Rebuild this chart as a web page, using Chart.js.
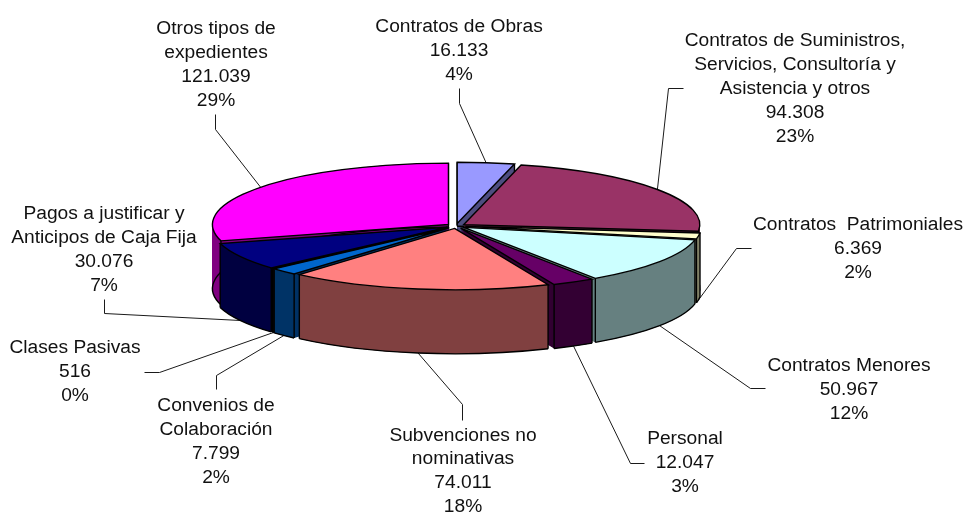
<!DOCTYPE html>
<html>
<head>
<meta charset="utf-8">
<style>
  html, body { margin: 0; padding: 0; background: #fff; }
  canvas { display: block; }
</style>
<script src="https://cdn.jsdelivr.net/npm/chart.js@4"></script>
</head>
<body>
<canvas id="pie" width="966" height="513"></canvas>
<script>
const categories = [
    ["Contratos de Obras"],
    ["Contratos de Suministros,", "Servicios, Consultoría y", "Asistencia y otros"],
    ["Contratos  Patrimoniales"],
    ["Contratos Menores"],
    ["Personal"],
    ["Subvenciones no", "nominativas"],
    ["Convenios de", "Colaboración"],
    ["Clases Pasivas"],
    ["Pagos a justificar y", "Anticipos de Caja Fija"],
    ["Otros tipos de", "expedientes"]
];
const values = [16133, 94308, 6369, 50967, 12047, 74011, 7799, 516, 30076, 121039];
const topColors = ["#9999FF", "#993366", "#FFFFCC", "#CCFFFF", "#660066", "#FF8080", "#0066CC", "#CCCCFF", "#000080", "#FF00FF"];
const wallColors = ["#4D4D80", "#4D1A33", "#808066", "#668080", "#330033", "#804040", "#003366", "#666680", "#000040", "#800080"];

// label centre x, y of first line, then the elbow points of the leader line
const labelLayout = [
    { x: 459, y: 27, leader: [[459, 88], [459, 103]] },
    { x: 795, y: 41, leader: [[683, 88], [668, 88]] },
    { x: 858, y: 225, leader: [[751, 248], [736, 248]] },
    { x: 849, y: 366, leader: [[765, 388], [750, 388]] },
    { x: 685, y: 439, leader: [[644, 463], [630, 463]] },
    { x: 463, y: 435.5, leader: [[462, 420], [462, 404]] },
    { x: 216, y: 406, leader: [[216, 389], [216, 375]] },
    { x: 75, y: 348, leader: [[144, 372], [159, 372]] },
    { x: 104, y: 214, leader: [[104, 299], [104, 313]] },
    { x: 216, y: 29, leader: [[215, 114], [215, 129]] }
];

const centerX = 456;
const centerY = 226;
const squash = 0.26;
const depth = 64;
const explode = 9.5;

function formatValue(v) {
    return String(v).replace(/\B(?=(\d{3})+$)/g, ".");
}

// moves the context so a flat arc lands on the tilted pie, dy pixels further down
function tilt(ctx, arc, dy) {
    const half = (arc.startAngle + arc.endAngle) / 2;
    ctx.translate(centerX, centerY + dy);
    ctx.scale(1, squash);
    ctx.translate(Math.cos(half) * explode - arc.x, Math.sin(half) * explode - arc.y);
}

function fillArc(ctx, arc, color, dy) {
    const saved = arc.options;
    arc.options = { backgroundColor: color, borderColor: color, borderWidth: 0, offset: 0, spacing: 0, circular: true, borderRadius: 0, borderAlign: "center", borderJoinStyle: "round" };
    ctx.save();
    tilt(ctx, arc, dy);
    arc.draw(ctx);
    ctx.restore();
    arc.options = saved;
}

function rimPoint(arc, angle, dy) {
    const half = (arc.startAngle + arc.endAngle) / 2;
    const dx = Math.cos(half) * explode + Math.cos(angle) * arc.outerRadius;
    const dyy = Math.sin(half) * explode + Math.sin(angle) * arc.outerRadius;
    return [centerX + dx, centerY + dy + dyy * squash];
}

function drawWall(ctx, arc, i) {
    for (let dy = depth; dy > 0; dy -= 0.5) {
        fillArc(ctx, arc, wallColors[i], dy);
    }
    // one flat band over the outer wall, the stacked layers leave faint streaks
    ctx.save();
    ctx.beginPath();
    ctx.save();
    tilt(ctx, arc, 0);
    ctx.arc(arc.x, arc.y, arc.outerRadius, arc.startAngle, arc.endAngle);
    ctx.restore();
    ctx.save();
    tilt(ctx, arc, depth);
    ctx.arc(arc.x, arc.y, arc.outerRadius, arc.endAngle, arc.startAngle, true);
    ctx.restore();
    ctx.closePath();
    ctx.fillStyle = wallColors[i];
    ctx.fill();
    ctx.restore();

    ctx.strokeStyle = "#000";
    ctx.lineWidth = 1.4;
    // bottom rim, built in the tilted space but stroked in plain pixels
    ctx.save();
    tilt(ctx, arc, depth);
    ctx.beginPath();
    ctx.arc(arc.x, arc.y, arc.outerRadius, arc.startAngle, arc.endAngle);
    ctx.restore();
    ctx.stroke();
    [arc.startAngle, arc.endAngle].forEach((angle) => {
        const a = rimPoint(arc, angle, 0);
        ctx.beginPath();
        ctx.moveTo(a[0], a[1]);
        ctx.lineTo(a[0], a[1] + depth);
        ctx.stroke();
    });
}

function drawTop(ctx, arc, i) {
    fillArc(ctx, arc, topColors[i], 0);
    ctx.save();
    tilt(ctx, arc, 0);
    ctx.beginPath();
    ctx.moveTo(arc.x, arc.y);
    ctx.arc(arc.x, arc.y, arc.outerRadius, arc.startAngle, arc.endAngle);
    ctx.closePath();
    ctx.restore();
    ctx.strokeStyle = "#000";
    ctx.lineWidth = 1.4;
    ctx.stroke();
}

function drawLabel(ctx, arc, i, total) {
    const box = labelLayout[i];
    const mid = (arc.startAngle + arc.endAngle) / 2;
    // front slices point at the foot of the wall, back ones at the top rim
    const anchor = rimPoint(arc, mid, Math.sin(mid) > 0 ? depth : 0);
    ctx.strokeStyle = "#1a1a1a";
    ctx.lineWidth = 1;
    ctx.beginPath();
    box.leader.forEach((p, n) => {
        if (n === 0) ctx.moveTo(p[0] + 0.5, p[1] + 0.5);
        else ctx.lineTo(p[0] + 0.5, p[1] + 0.5);
    });
    ctx.lineTo(anchor[0], anchor[1]);
    ctx.stroke();

    const lines = categories[i].concat([formatValue(values[i]), Math.round(values[i] / total * 100) + "%"]);
    ctx.fillStyle = "#111";
    ctx.font = "19.2px 'Liberation Sans', Arial, sans-serif";
    ctx.textAlign = "center";
    ctx.textBaseline = "middle";
    lines.forEach((line, n) => ctx.fillText(line, box.x, box.y + n * (i === 5 ? 23.7 : 24)));
}

const tiltedPie = {
    id: "tiltedPie",
    beforeDatasetsDraw(chart) {
        const ctx = chart.ctx;
        const arcs = chart.getDatasetMeta(0).data;
        const total = values.reduce((a, b) => a + b, 0);
        arcs.forEach((arc, i) => drawLabel(ctx, arc, i, total));
        const order = arcs.map((arc, i) => i).sort((a, b) => {
            const ma = (arcs[a].startAngle + arcs[a].endAngle) / 2;
            const mb = (arcs[b].startAngle + arcs[b].endAngle) / 2;
            return Math.sin(ma) - Math.sin(mb);
        });
        order.forEach((i) => {
            drawWall(ctx, arcs[i], i);
            drawTop(ctx, arcs[i], i);
        });
        return false;
    }
};

new Chart(document.getElementById("pie"), {
    type: "pie",
    data: {
        labels: categories.map((c) => c.join(" ")),
        datasets: [{
            data: values,
            backgroundColor: topColors,
            borderWidth: 0
        }]
    },
    options: {
        responsive: false,
        animation: false,
        layout: { padding: { left: 220, right: 274, top: 20, bottom: 21 } },
        plugins: { legend: { display: false }, tooltip: { enabled: false } }
    },
    plugins: [tiltedPie]
});
</script>
</body>
</html>
